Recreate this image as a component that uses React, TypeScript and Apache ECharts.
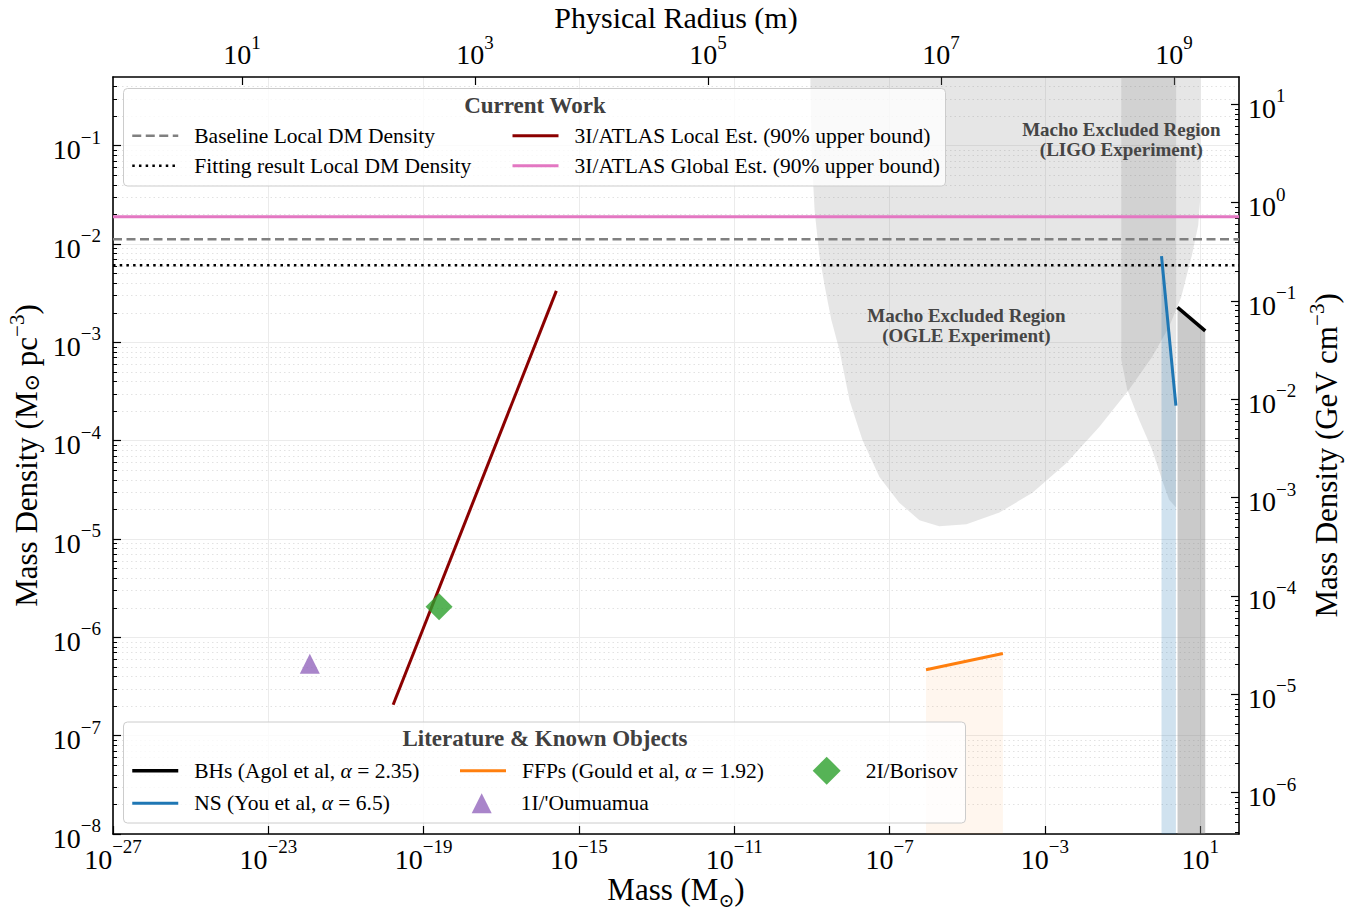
import React, { useEffect, useRef } from 'react';
import * as echarts from 'echarts';

const FONT = "'Liberation Serif', 'Times New Roman', 'DejaVu Serif', serif";

// ---- axis ranges (log10 space) ----
const massLogRange = [-27, 2];
const densityLogRange = [-8, Math.log10(0.5)];
const massTickExponents = [-27, -23, -19, -15, -11, -7, -3, 1];
const densityTickExponents = [-8, -7, -6, -5, -4, -3, -2, -1];
const gevTickExponents = [-6, -5, -4, -3, -2, -1, 0, 1];
const radiusTickExponents = [1, 3, 5, 7, 9];

// unit conversions
const GEV_CM3_PER_MSUN_PC3 = 37.97;
const SOLAR_MASS_KG = 1.989e30;
const OBJECT_DENSITY_KG_M3 = 1000;

// ---- current work ----
const baselineDensity = 0.0112;
const fittingDensity = 0.0061;
const globalEstDensity = 0.019;
const localEstMass = [1.64e-20, 2.62e-16];
const localEstDensity = [2.06e-7, 3.34e-3];

// ---- literature & known objects ----
const bhMass = [2.61, 13.5];
const bhDensity = [2.27e-3, 1.31e-3];
const nsMass = [1.01, 2.37];
const nsDensity = [7.53e-3, 2.27e-4];
const ffpMass = [8.7e-7, 8.3e-5];
const ffpDensity = [4.68e-7, 6.84e-7];
const oumuamuaMass = [1.17e-22];
const oumuamuaDensity = [5.4e-7];
const borisovMass = [2.5e-19];
const borisovDensity = [2.05e-6];

// ---- excluded regions (log10 mass, log10 density) ----
const ogleLogMass = [-9.04, -9.01, -8.93, -8.81, -8.65, -8.5, -8.29, -8.03, -7.7, -7.26, -6.75, -6.23, -5.72, -5.02, -4.17, -3.32, -2.45, -1.6, -0.83, -0.24, 0.2, 0.51, 0.79, 0.95, 1.0, 1.0];
const ogleLogDensity = [-0.3, -1.05, -1.66, -2.11, -2.47, -2.77, -3.08, -3.59, -3.99, -4.37, -4.63, -4.81, -4.87, -4.85, -4.73, -4.53, -4.23, -3.86, -3.48, -3.15, -2.84, -2.54, -2.11, -1.81, -1.55, -0.3];
const ligoLogMass = [-1.03, -1.03, -0.88, -0.57, -0.24, 0.02, 0.2, 0.38, 0.38];
const ligoLogDensity = [-0.3, -3.18, -3.48, -3.79, -4.09, -4.4, -4.6, -4.68, -0.3];
const ogleLabelPos = [-5.02, -2.83];
const ligoLabelPos = [-1.03, -0.935];

const NAME_BASE = 'Baseline Local DM Density';
const NAME_FIT = 'Fitting result Local DM Density';
const NAME_LOCAL = '3I/ATLAS Local Est. (90% upper bound)';
const NAME_GLOBAL = '3I/ATLAS Global Est. (90% upper bound)';
const NAME_BH = 'BHs (Agol et al, α = 2.35)';
const NAME_NS = 'NS (You et al, α = 6.5)';
const NAME_FFP = 'FFPs (Gould et al, α = 1.92)';
const NAME_OUM = "1I/'Oumuamua";
const NAME_BOR = '2I/Borisov';

const L = Math.log10;
const GEV_SHIFT = L(GEV_CM3_PER_MSUN_PC3);
const RADIUS_SHIFT = L((3 * SOLAR_MASS_KG) / (4 * Math.PI * OBJECT_DENSITY_KG_M3)) / 3;

const minorTicks = (lo: number, hi: number) => {
  const out: number[] = [];
  for (let n = Math.floor(lo) - 1; n <= Math.ceil(hi); n++) {
    for (let k = 2; k <= 9; k++) {
      const v = n + L(k);
      if (v > lo && v < hi) out.push(v);
    }
  }
  return out;
};

const fmtExp = (v: number) => String(Math.round(v)).replace('-', '\u2212');
const powLabel = (v: number) => `{b|10}{s|${fmtExp(v)}}`;
const makeTickRich = (lh: number) => ({
  b: { fontSize: 28, lineHeight: lh, verticalAlign: 'bottom', fontFamily: FONT, color: '#000' },
  s: { fontSize: 19, verticalAlign: 'top', fontFamily: FONT, color: '#000' },
});
const tickRich = makeTickRich(36);
const topTickRich = makeTickRich(35);
const nameRich = {
  n: { fontSize: 31, lineHeight: 36, verticalAlign: 'top', fontFamily: FONT, color: '#000' },
  sub: { fontSize: 19, verticalAlign: 'bottom', fontFamily: FONT, color: '#000' },
  m: { fontSize: 31, lineHeight: 36, verticalAlign: 'bottom', fontFamily: FONT, color: '#000' },
  msub: { fontSize: 21, verticalAlign: 'bottom', fontFamily: FONT, color: '#000' },
  sup: { fontSize: 21, verticalAlign: 'top', fontFamily: FONT, color: '#000' },
};

const legendLabels: Record<string, string> = {
  [NAME_BH]: '{t|BHs (Agol et al, }{i|α}{t| = 2.35)}',
  [NAME_NS]: '{t|NS (You et al, }{i|α}{t| = 6.5)}',
  [NAME_FFP]: '{t|FFPs (Gould et al, }{i|α}{t| = 1.92)}',
};

const hline = (v: number) => [[massLogRange[0], L(v)], [massLogRange[1], L(v)]];
const pairs = (ms: number[], ds: number[]) => ms.map((m, i) => [L(m), L(ds[i])]);

const majorTick = { show: true, inside: true, length: 8, lineStyle: { color: '#000', width: 1.2 } };
const minorTick = { show: true, inside: true, length: 4, lineStyle: { color: '#000', width: 1 } };
const frameLine = { show: true, onZero: false, lineStyle: { color: '#000', width: 1.6 } };

const regionSeries = (name: string, ms: number[], ds: number[], fill: string, labelPos: number[], label: string) => ({
  type: 'custom',
  name,
  silent: true,
  clip: true,
  z: 1,
  xAxisIndex: 0,
  yAxisIndex: 0,
  data: [[-5, -3]],
  renderItem: (_p: any, api: any) => {
    const pt = api.coord(labelPos);
    return {
      type: 'group',
      children: [
        { type: 'polygon', shape: { points: ms.map((m, i) => api.coord([m, ds[i]])) }, style: { fill } },
        {
          type: 'text',
          x: pt[0],
          y: pt[1],
          style: {
            text: label,
            fill: '#454545',
            font: `bold 19px ${FONT}`,
            align: 'center',
            verticalAlign: 'middle',
            lineHeight: 20,
          },
        },
      ],
    };
  },
});

export default function App() {
  const ref = useRef<HTMLDivElement>(null);
  useEffect(() => {
    if (!ref.current) return;
    const chart = echarts.init(ref.current, undefined, { renderer: 'svg' });

    const legendText = (padLeft: number) => ({
      fontFamily: FONT,
      fontSize: 21.5,
      color: '#000',
      lineHeight: 20,
      padding: [0, 0, 0, padLeft],
      rich: {
        t: { fontFamily: FONT, fontSize: 21.5, color: '#000', lineHeight: 20 },
        i: { fontFamily: FONT, fontSize: 21.5, color: '#000', lineHeight: 20, fontStyle: 'italic' },
      },
    });
    const legendBase = {
      orient: 'vertical',
      padding: 0,
      itemWidth: 46,
      itemHeight: 20,
      selectedMode: false,
      z: 20,
      lineStyle: { width: 'inherit' },
      textStyle: legendText(11),
      formatter: (name: string) => legendLabels[name] ?? name,
    };
    const lineItem = (name: string) => ({ name, itemStyle: { opacity: 0 } });

    const option: any = {
      animation: false,
      backgroundColor: '#fff',
      textStyle: { fontFamily: FONT },
      grid: { left: 113, right: 125, top: 77, bottom: 80, containLabel: false, outerBoundsMode: 'none' },
      xAxis: [
        {
          type: 'value',
          position: 'bottom',
          min: massLogRange[0],
          max: massLogRange[1],
          interval: 4,
          name: '{n|Mass (M}{sub|\u2299}{n|)}',
          nameLocation: 'middle',
          nameGap: 40,
          nameMoveOverlap: false,
          nameTextStyle: { rich: nameRich },
          axisLine: frameLine,
          axisTick: { ...majorTick, customValues: massTickExponents },
          axisLabel: { customValues: massTickExponents, margin: 3, formatter: powLabel, rich: tickRich },
          splitLine: { show: true, lineStyle: { color: '#ebebeb', width: 1 } },
        },
        {
          type: 'value',
          position: 'top',
          min: massLogRange[0] / 3 + RADIUS_SHIFT,
          max: massLogRange[1] / 3 + RADIUS_SHIFT,
          name: 'Physical Radius (m)',
          nameLocation: 'middle',
          nameGap: 45,
          nameMoveOverlap: false,
          nameTextStyle: { fontSize: 30, lineHeight: 30, color: '#000', fontFamily: FONT },
          axisLine: frameLine,
          axisTick: { ...majorTick, customValues: radiusTickExponents },
          axisLabel: { customValues: radiusTickExponents, margin: 9, formatter: powLabel, rich: topTickRich },
          splitLine: { show: false },
        },
      ],
      yAxis: [
        {
          type: 'value',
          position: 'left',
          min: densityLogRange[0],
          max: densityLogRange[1],
          interval: 1,
          name: '{m|Mass Density (M}{msub|\u2299}{m| pc}{sup|\u22123}{m|)}',
          nameLocation: 'middle',
          nameRotate: 90,
          nameGap: 71,
          nameMoveOverlap: false,
          nameTextStyle: { rich: nameRich },
          axisLine: frameLine,
          axisTick: { ...majorTick, customValues: densityTickExponents },
          axisLabel: { customValues: densityTickExponents, margin: 12, formatter: powLabel, rich: tickRich },
          splitLine: { show: true, lineStyle: { color: '#ebebeb', width: 1 } },
        },
        {
          type: 'value',
          position: 'right',
          min: densityLogRange[0] + GEV_SHIFT,
          max: densityLogRange[1] + GEV_SHIFT,
          name: '{m|Mass Density (GeV cm}{sup|\u22123}{m|)}',
          nameLocation: 'middle',
          nameRotate: 90,
          nameGap: 67,
          nameMoveOverlap: false,
          nameTextStyle: { rich: nameRich },
          axisLine: frameLine,
          axisTick: { ...majorTick, customValues: gevTickExponents },
          axisLabel: { customValues: gevTickExponents, margin: 9, formatter: powLabel, rich: tickRich },
          splitLine: { show: false },
        },
        {
          type: 'value',
          position: 'left',
          min: densityLogRange[0],
          max: densityLogRange[1],
          axisLine: { show: false, onZero: false },
          axisTick: { ...minorTick, customValues: minorTicks(densityLogRange[0], densityLogRange[1]) },
          axisLabel: { show: false },
          splitLine: { show: true, lineStyle: { color: '#e2e2e2', width: 1, type: [1.5, 3] } },
        },
        {
          type: 'value',
          position: 'right',
          min: densityLogRange[0] + GEV_SHIFT,
          max: densityLogRange[1] + GEV_SHIFT,
          axisLine: { show: false, onZero: false },
          axisTick: { ...minorTick, customValues: minorTicks(densityLogRange[0] + GEV_SHIFT, densityLogRange[1] + GEV_SHIFT) },
          axisLabel: { show: false },
          splitLine: { show: false },
        },
      ],
      legend: [
        { ...legendBase, left: 131, top: 124.7, itemGap: 8, data: [lineItem(NAME_BASE), lineItem(NAME_FIT)] },
        { ...legendBase, left: 511, top: 124.7, itemGap: 8, data: [lineItem(NAME_LOCAL), lineItem(NAME_GLOBAL)] },
        { ...legendBase, left: 130.5, top: 759.7, itemGap: 10.6, data: [lineItem(NAME_BH), lineItem(NAME_NS)] },
        { ...legendBase, left: 458.5, top: 759.7, data: [lineItem(NAME_FFP)] },
        { ...legendBase, left: 471.7, top: 792.3, itemWidth: 20, itemHeight: 20, textStyle: legendText(24), data: [NAME_OUM] },
        { ...legendBase, left: 812.7, top: 756.7, itemWidth: 28, itemHeight: 28, textStyle: legendText(20), data: [NAME_BOR] },
      ],
      graphic: {
        elements: [
          { type: 'rect', z: 10, silent: true, shape: { x: 123.5, y: 88.5, width: 822, height: 97.5, r: 4 }, style: { fill: 'rgba(255,255,255,0.8)', stroke: '#cccccc', lineWidth: 1 } },
          { type: 'text', z: 20, silent: true, x: 535, y: 105, style: { text: 'Current Work', font: `bold 23px ${FONT}`, fill: '#404040', align: 'center', verticalAlign: 'middle' } },
          { type: 'rect', z: 10, silent: true, shape: { x: 123.5, y: 722, width: 842, height: 101, r: 4 }, style: { fill: 'rgba(255,255,255,0.8)', stroke: '#cccccc', lineWidth: 1 } },
          { type: 'text', z: 20, silent: true, x: 545, y: 738, style: { text: 'Literature & Known Objects', font: `bold 23px ${FONT}`, fill: '#404040', align: 'center', verticalAlign: 'middle' } },
        ],
      },
      series: [
        regionSeries('OGLE excluded', ogleLogMass, ogleLogDensity, 'rgba(128,128,128,0.2)', ogleLabelPos, 'Macho Excluded Region\n(OGLE Experiment)'),
        regionSeries('LIGO excluded', ligoLogMass, ligoLogDensity, 'rgba(128,128,128,0.2)', ligoLabelPos, 'Macho Excluded Region\n(LIGO Experiment)'),
        {
          type: 'line', name: NAME_FFP, data: pairs(ffpMass, ffpDensity), symbol: 'none', silent: true, z: 3,
          lineStyle: { color: '#ff7f0e', width: 3 }, itemStyle: { color: '#ff7f0e' },
          areaStyle: { origin: 'start', color: 'rgba(255,127,14,0.1)' },
        },
        {
          type: 'line', name: NAME_NS, data: pairs(nsMass, nsDensity), symbol: 'none', silent: true, z: 3,
          lineStyle: { color: '#1f77b4', width: 3 }, itemStyle: { color: '#1f77b4' },
          areaStyle: { origin: 'start', color: 'rgba(31,119,180,0.3)' },
        },
        {
          type: 'line', name: NAME_BH, data: pairs(bhMass, bhDensity), symbol: 'none', silent: true, z: 3,
          lineStyle: { color: '#000000', width: 3.5 }, itemStyle: { color: '#000000' },
          areaStyle: { origin: 'start', color: 'rgba(128,128,128,0.6)' },
        },
        {
          type: 'line', name: NAME_GLOBAL, data: hline(globalEstDensity), symbol: 'none', silent: true, z: 3,
          lineStyle: { color: '#e377c2', width: 3 }, itemStyle: { color: '#e377c2' },
        },
        {
          type: 'line', name: NAME_BASE, data: hline(baselineDensity), symbol: 'none', silent: true, z: 3,
          lineStyle: { color: '#808080', width: 2.5, type: [9, 4.5] }, itemStyle: { color: '#808080' },
        },
        {
          type: 'line', name: NAME_FIT, data: hline(fittingDensity), symbol: 'none', silent: true, z: 3,
          lineStyle: { color: '#000000', width: 2.5, type: [2.5, 4.2] }, itemStyle: { color: '#000000' },
        },
        {
          type: 'line', name: NAME_LOCAL, data: pairs(localEstMass, localEstDensity), symbol: 'none', silent: true, z: 3,
          lineStyle: { color: '#8b0000', width: 3 }, itemStyle: { color: '#8b0000' },
        },
        {
          type: 'scatter', name: NAME_OUM, data: pairs(oumuamuaMass, oumuamuaDensity), symbol: 'triangle', symbolSize: 20, silent: true, z: 4,
          itemStyle: { color: '#9467bd', opacity: 0.8 },
        },
        {
          type: 'scatter', name: NAME_BOR, data: pairs(borisovMass, borisovDensity), symbol: 'diamond', symbolSize: 27, silent: true, z: 4,
          itemStyle: { color: '#2ca02c', opacity: 0.8 },
        },
      ],
    };

    chart.setOption(option);
    return () => chart.dispose();
  }, []);

  return <div ref={ref} style={{ position: 'absolute', left: 0, top: 0, width: 1364, height: 914 }} />;
}
